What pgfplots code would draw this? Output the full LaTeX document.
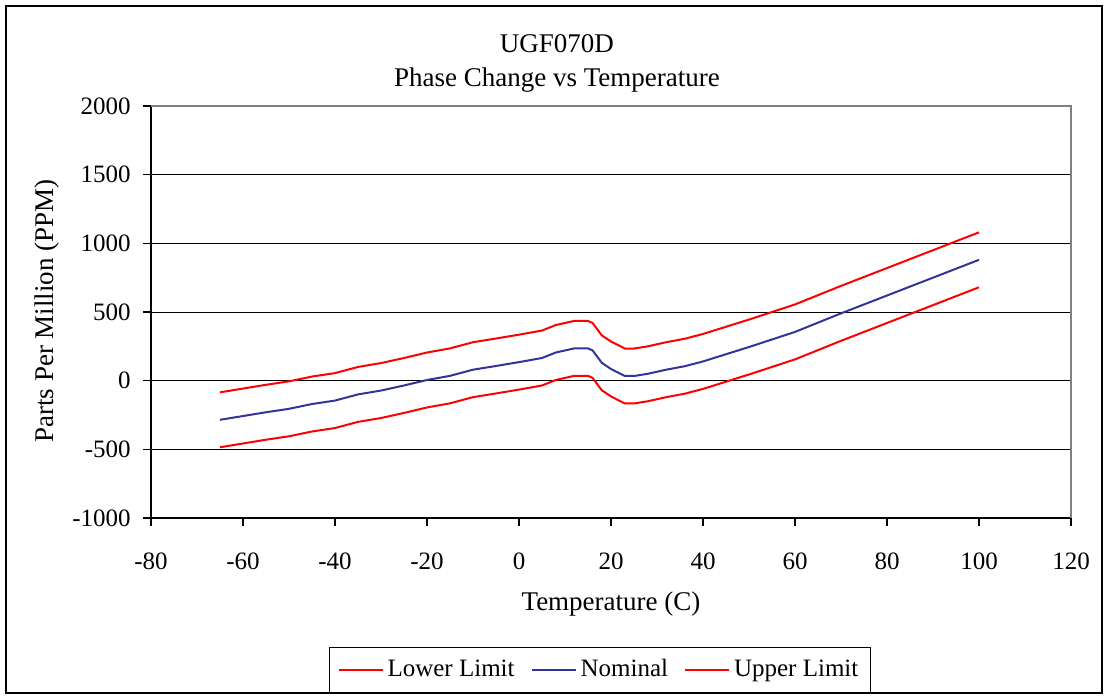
\documentclass[border=0pt]{standalone}
\usepackage{fontspec}
\setmainfont{Liberation Serif}
\usepackage{pgfplots}
\pgfplotsset{compat=1.18}

\definecolor{limred}{RGB}{255,0,0}
\definecolor{nomblue}{RGB}{51,51,153}

\begin{document}
\fontsize{12}{14}\selectfont
\begin{tikzpicture}
\path (-75.5pt,-89pt) rectangle (476.5pt,259pt);
\draw[black, line width=0.8pt] (-72.5pt,-87.5pt) rectangle (475.5pt,256pt);

\begin{axis}[
  at={(0pt,0pt)}, anchor=south west,
  scale only axis,
  width=460pt, height=206pt,
  xmin=-80, xmax=120, ymin=-1000, ymax=2000,
  xtick={-80,-60,...,120},
  ytick={-1000,-500,...,2000},
  axis x line*=bottom, axis y line*=left,
  axis line style={black, line width=0.6pt, -},
  tick align=outside,
  major tick length=4pt,
  tick style={black, line width=0.6pt},
  ymajorgrids,
  major grid style={black, line width=0.5pt},
  /pgf/number format/assume math mode=true,
  /pgf/number format/1000 sep={},
  ticklabel style={font=\fontsize{12.5}{14}\selectfont},
  xticklabel style={yshift=-9pt},
  yticklabel style={xshift=-2pt},
  legend columns=3,
  legend style={at={(0.488,-0.369)}, anchor=center, draw=black,
    line width=0.6pt, font=\fontsize{12.5}{14}\selectfont,
    inner xsep=4pt, inner ysep=4pt,
    /tikz/every even column/.append style={column sep=6pt}},
  legend image code/.code={\draw[#1, line width=1pt] (0pt,0pt) -- (22pt,0pt);},
  clip=false,
]

\addplot[limred, line width=1pt] coordinates {
(-65,-485) (-55,-430) (-50,-405) (-45,-370) (-40,-345) (-35,-300) (-30,-272)
(-25,-235) (-20,-195) (-15,-165) (-10,-120) (-5,-93) (0,-65) (5,-35) (8,5)
(12,35) (15,35) (16,20) (18,-70) (20,-115) (23,-166) (25,-166) (28,-150)
(32,-120) (36,-95) (40,-60) (50,45) (60,155) (70,290) (80,420) (90,550) (100,680)
};
\addlegendentry{Lower Limit}

\addplot[nomblue, line width=1pt] coordinates {
(-65,-285) (-55,-230) (-50,-205) (-45,-170) (-40,-145) (-35,-100) (-30,-72)
(-25,-35) (-20,5) (-15,35) (-10,80) (-5,107) (0,135) (5,165) (8,205)
(12,235) (15,235) (16,220) (18,130) (20,85) (23,34) (25,34) (28,50)
(32,80) (36,105) (40,140) (50,245) (60,355) (70,490) (80,620) (90,750) (100,880)
};
\addlegendentry{Nominal}

\addplot[limred, line width=1pt] coordinates {
(-65,-85) (-55,-30) (-50,-5) (-45,30) (-40,55) (-35,100) (-30,128)
(-25,165) (-20,205) (-15,235) (-10,280) (-5,307) (0,335) (5,365) (8,405)
(12,435) (15,435) (16,420) (18,330) (20,285) (23,234) (25,234) (28,250)
(32,280) (36,305) (40,340) (50,445) (60,555) (70,690) (80,820) (90,950) (100,1080)
};
\addlegendentry{Upper Limit}

\draw[gray, line width=0.8pt] (rel axis cs:0,1) -- (rel axis cs:1,1) -- (rel axis cs:1,0);
\end{axis}

\begin{scope}[every node/.style={font=\fontsize{13.5}{15}\selectfont}]
\node at (203pt,237pt) {UGF070D};
\node at (203pt,219pt) {Phase Change vs Temperature};
\node at (230pt,-43pt) {Temperature (C)};
\node[rotate=90] at (-52pt,103.5pt) {Parts Per Million (PPM)};
\end{scope}
\end{tikzpicture}
\end{document}
